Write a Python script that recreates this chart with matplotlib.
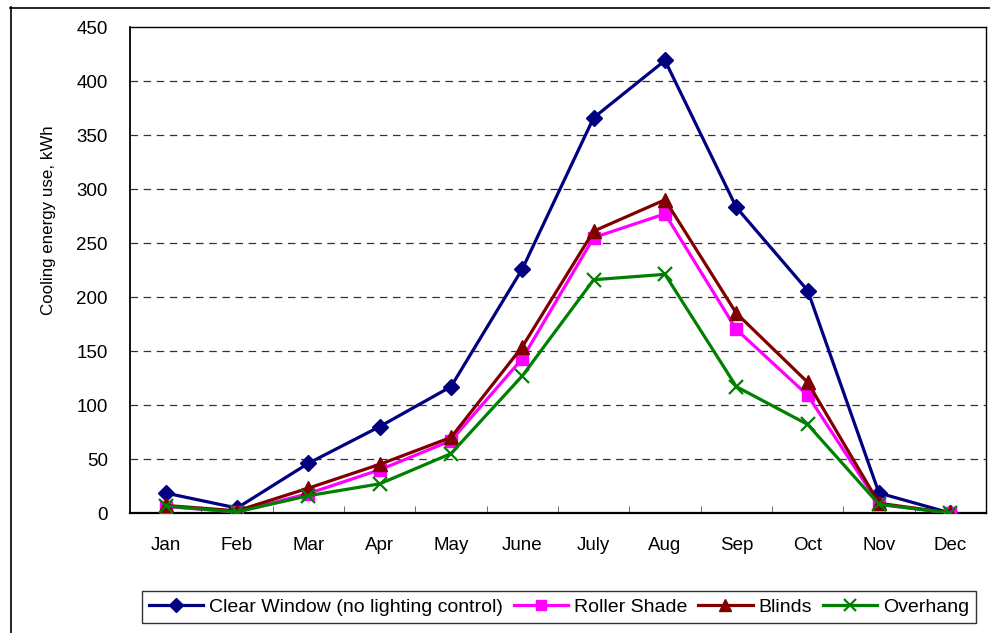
import matplotlib
matplotlib.use("Agg")
import matplotlib.pyplot as plt
from matplotlib.lines import Line2D

plt.rcParams['font.family'] = ['Liberation Sans', 'DejaVu Sans']

months = ["Jan", "Feb", "Mar", "Apr", "May", "June", "July", "Aug", "Sep", "Oct", "Nov", "Dec"]
clear_window = [18.5, 4.6, 46, 80, 117, 226, 366, 419, 283, 206, 18.5, 0]
roller_shade = [6, 1, 18, 40, 67, 143, 255, 277, 170, 109, 8, 0]
blinds = [7, 2, 23, 45, 70, 154, 261, 290, 185, 121, 9, 0]
overhang = [6.5, 1, 16, 27, 55, 127, 216, 221, 117, 82, 8, 0]
series_labels = ["Clear Window (no lighting control)", "Roller Shade", "Blinds", "Overhang"]
y_ticks = [0, 50, 100, 150, 200, 250, 300, 350, 400, 450]

W, H = 990, 633
fig = plt.figure(figsize=(W / 100, H / 100), dpi=100)
ax = fig.add_axes([130 / W, 1 - 513 / H, (986 - 130) / W, (513 - 27) / H])

x = list(range(len(months)))
lw = 2.3
ax.plot(x, clear_window, color="#000080", lw=lw, marker="D", ms=8, label=series_labels[0], zorder=3)
ax.plot(x, roller_shade, color="#FF00FF", lw=lw, marker="s", ms=8, label=series_labels[1], zorder=4)
ax.plot(x, blinds, color="#800000", lw=lw, marker="^", ms=9.5, label=series_labels[2], zorder=5)
ax.plot(x, overhang, color="#008000", lw=lw, marker="x", ms=10, mew=1.6, label=series_labels[3], zorder=6)

ax.set_xlim(-0.5, len(months) - 0.5)
ax.set_ylim(0, 450)
ax.set_yticks(y_ticks)
ax.set_yticklabels([str(v) for v in y_ticks], fontsize=13.5)
ax.set_xticks(x)
ax.set_xticklabels(months, fontsize=13.5)
ax.set_xticks([i + 0.5 for i in range(len(months) - 1)], minor=True)
ax.tick_params(axis='x', which='major', length=0, pad=17)
ax.tick_params(axis='x', which='minor', direction='in', length=5, color='#555555')
ax.tick_params(axis='y', which='major', direction='in', length=0, pad=16)

for v in y_ticks[1:-1]:
    ax.axhline(v, color="#333333", lw=0.9, dashes=(6, 4.5), zorder=1)

for s in ax.spines.values():
    s.set_color("black")
    s.set_linewidth(1.0)
ax.spines['bottom'].set_linewidth(1.6)
ax.spines['left'].set_linewidth(1.3)

fig.text(49 / W, 1 - 220 / H, "Cooling energy use, kWh", rotation=90, ha='center', va='center', fontsize=12.2)

# outer chart border (left and top edges)
fig.add_artist(Line2D([10.5 / W, 10.5 / W], [0, 1 - 7 / H], transform=fig.transFigure, color='black', lw=1.2))
fig.add_artist(Line2D([10 / W, 1], [1 - 7.5 / H, 1 - 7.5 / H], transform=fig.transFigure, color='black', lw=1.2))

leg = fig.legend(loc='center', bbox_to_anchor=(559 / W, 1 - 607 / H), ncol=4, fontsize=14,
                 frameon=True, fancybox=False, edgecolor='black', handlelength=2.8,
                 handletextpad=0.3, columnspacing=0.55, borderpad=0.35, markerscale=0.85)
leg.get_frame().set_linewidth(1.0)

fig.savefig("out.png", dpi=100)
